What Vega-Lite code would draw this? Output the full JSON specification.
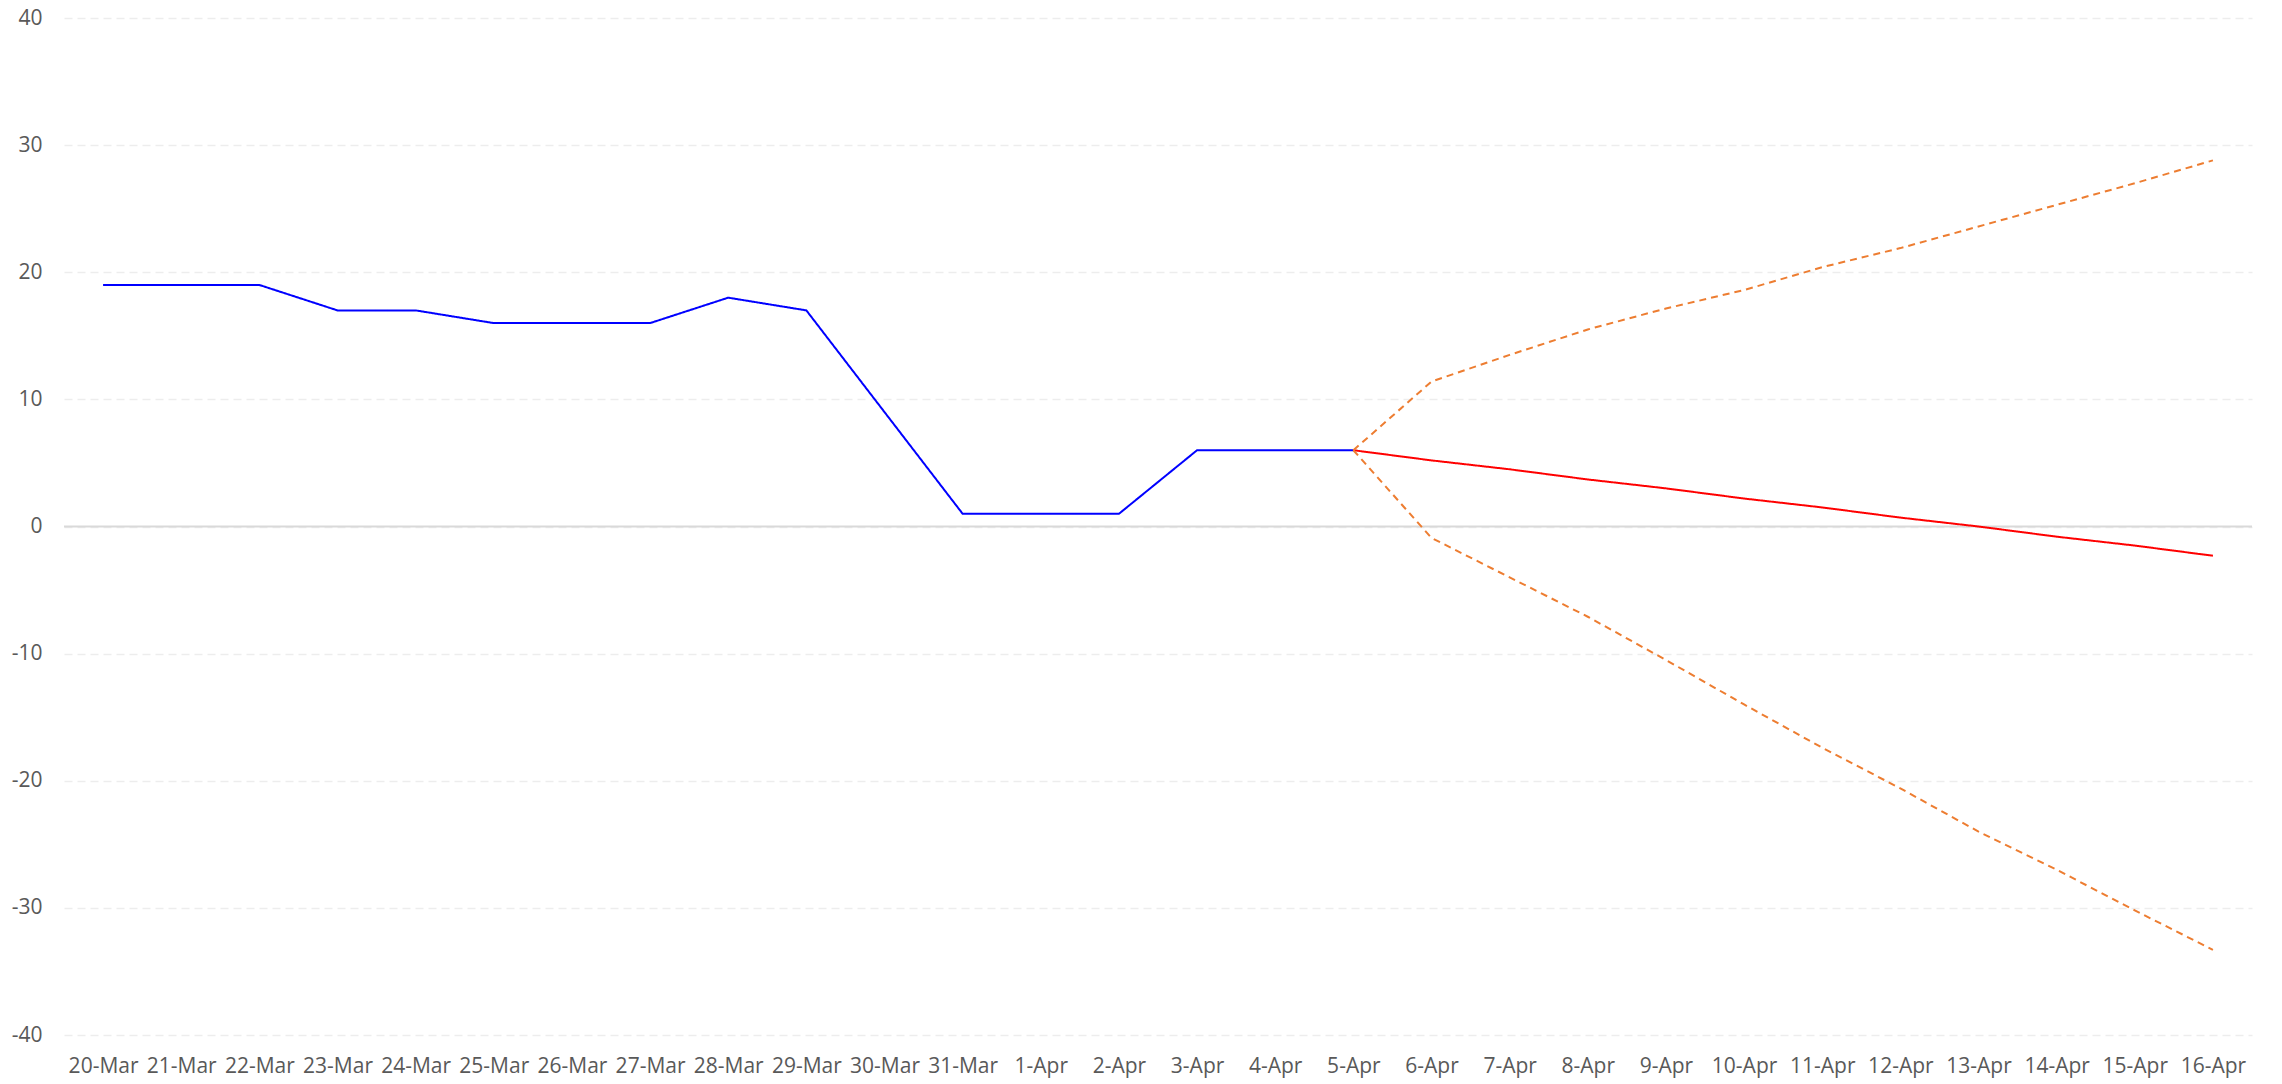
{
  "$schema": "https://vega.github.io/schema/vega-lite/v6.json",
  "width": 2188,
  "height": 1017,
  "autosize": {"type": "none"},
  "padding": {"left": 64, "top": 18, "right": 30, "bottom": 49},
  "background": "white",
  "config": {
    "view": {"stroke": null},
    "font": "Open Sans",
    "axis": {"labelFont": "Open Sans", "labelFontSize": 21, "labelColor": "#595959", "domain": false, "ticks": false, "title": null}
  },
  "datasets": {
    "zero": [{"v": 0}]
  },
  "data": {
    "values": [
      {"date": "20-Mar", "series": "Actual", "value": 19},
      {"date": "21-Mar", "series": "Actual", "value": 19},
      {"date": "22-Mar", "series": "Actual", "value": 19},
      {"date": "23-Mar", "series": "Actual", "value": 17},
      {"date": "24-Mar", "series": "Actual", "value": 17},
      {"date": "25-Mar", "series": "Actual", "value": 16},
      {"date": "26-Mar", "series": "Actual", "value": 16},
      {"date": "27-Mar", "series": "Actual", "value": 16},
      {"date": "28-Mar", "series": "Actual", "value": 18},
      {"date": "29-Mar", "series": "Actual", "value": 17},
      {"date": "30-Mar", "series": "Actual", "value": 9},
      {"date": "31-Mar", "series": "Actual", "value": 1},
      {"date": "1-Apr", "series": "Actual", "value": 1},
      {"date": "2-Apr", "series": "Actual", "value": 1},
      {"date": "3-Apr", "series": "Actual", "value": 6},
      {"date": "4-Apr", "series": "Actual", "value": 6},
      {"date": "5-Apr", "series": "Actual", "value": 6},
      {"date": "5-Apr", "series": "Forecast", "value": 6},
      {"date": "6-Apr", "series": "Forecast", "value": 5.2},
      {"date": "7-Apr", "series": "Forecast", "value": 4.5},
      {"date": "8-Apr", "series": "Forecast", "value": 3.7},
      {"date": "9-Apr", "series": "Forecast", "value": 3.0},
      {"date": "10-Apr", "series": "Forecast", "value": 2.2},
      {"date": "11-Apr", "series": "Forecast", "value": 1.5},
      {"date": "12-Apr", "series": "Forecast", "value": 0.7},
      {"date": "13-Apr", "series": "Forecast", "value": 0.0},
      {"date": "14-Apr", "series": "Forecast", "value": -0.8},
      {"date": "15-Apr", "series": "Forecast", "value": -1.5},
      {"date": "16-Apr", "series": "Forecast", "value": -2.3},
      {"date": "5-Apr", "series": "Upper", "value": 6},
      {"date": "6-Apr", "series": "Upper", "value": 11.4},
      {"date": "7-Apr", "series": "Upper", "value": 13.5},
      {"date": "8-Apr", "series": "Upper", "value": 15.5},
      {"date": "9-Apr", "series": "Upper", "value": 17.15},
      {"date": "10-Apr", "series": "Upper", "value": 18.6},
      {"date": "11-Apr", "series": "Upper", "value": 20.4},
      {"date": "12-Apr", "series": "Upper", "value": 21.9},
      {"date": "13-Apr", "series": "Upper", "value": 23.6},
      {"date": "14-Apr", "series": "Upper", "value": 25.3},
      {"date": "15-Apr", "series": "Upper", "value": 27.0},
      {"date": "16-Apr", "series": "Upper", "value": 28.8},
      {"date": "5-Apr", "series": "Lower", "value": 6},
      {"date": "6-Apr", "series": "Lower", "value": -0.9},
      {"date": "7-Apr", "series": "Lower", "value": -4.0},
      {"date": "8-Apr", "series": "Lower", "value": -7.1},
      {"date": "9-Apr", "series": "Lower", "value": -10.5},
      {"date": "10-Apr", "series": "Lower", "value": -14.0},
      {"date": "11-Apr", "series": "Lower", "value": -17.4},
      {"date": "12-Apr", "series": "Lower", "value": -20.6},
      {"date": "13-Apr", "series": "Lower", "value": -24.0},
      {"date": "14-Apr", "series": "Lower", "value": -27.0},
      {"date": "15-Apr", "series": "Lower", "value": -30.2},
      {"date": "16-Apr", "series": "Lower", "value": -33.3}
    ]
  },
  "encoding": {
    "x": {
      "field": "date",
      "type": "nominal",
      "scale": {
        "type": "point",
        "padding": 0.5,
        "domain": ["20-Mar","21-Mar","22-Mar","23-Mar","24-Mar","25-Mar","26-Mar","27-Mar","28-Mar","29-Mar","30-Mar","31-Mar","1-Apr","2-Apr","3-Apr","4-Apr","5-Apr","6-Apr","7-Apr","8-Apr","9-Apr","10-Apr","11-Apr","12-Apr","13-Apr","14-Apr","15-Apr","16-Apr"]
      },
      "axis": {"labelAngle": 0, "labelPadding": 20, "grid": false, "labelOverlap": false}
    },
    "y": {
      "field": "value",
      "type": "quantitative",
      "scale": {"domain": [-40, 40], "nice": false, "zero": false},
      "axis": {"values": [-40,-30,-20,-10,0,10,20,30,40], "labelExpr": "'' + datum.value", "labelPadding": 22, "grid": true, "gridColor": "#EDEDED", "gridWidth": 1.5, "gridDash": [8, 5]}
    }
  },
  "layer": [
    {
      "data": {"name": "zero"},
      "mark": {"type": "rule", "color": "#D9D9D9", "strokeWidth": 2},
      "encoding": {
        "x": null,
        "y": {"field": "v", "type": "quantitative"}
      }
    },
    {
      "mark": {"type": "line", "strokeWidth": 2},
      "encoding": {
        "color": {
          "field": "series",
          "type": "nominal",
          "scale": {"domain": ["Actual", "Forecast", "Upper", "Lower"], "range": ["#0000FF", "#FF0000", "#ED7D31", "#ED7D31"]},
          "legend": null
        },
        "strokeDash": {
          "field": "series",
          "type": "nominal",
          "scale": {"domain": ["Actual", "Forecast", "Upper", "Lower"], "range": [[1, 0], [1, 0], [7, 5], [7, 5]]},
          "legend": null
        }
      }
    }
  ]
}
